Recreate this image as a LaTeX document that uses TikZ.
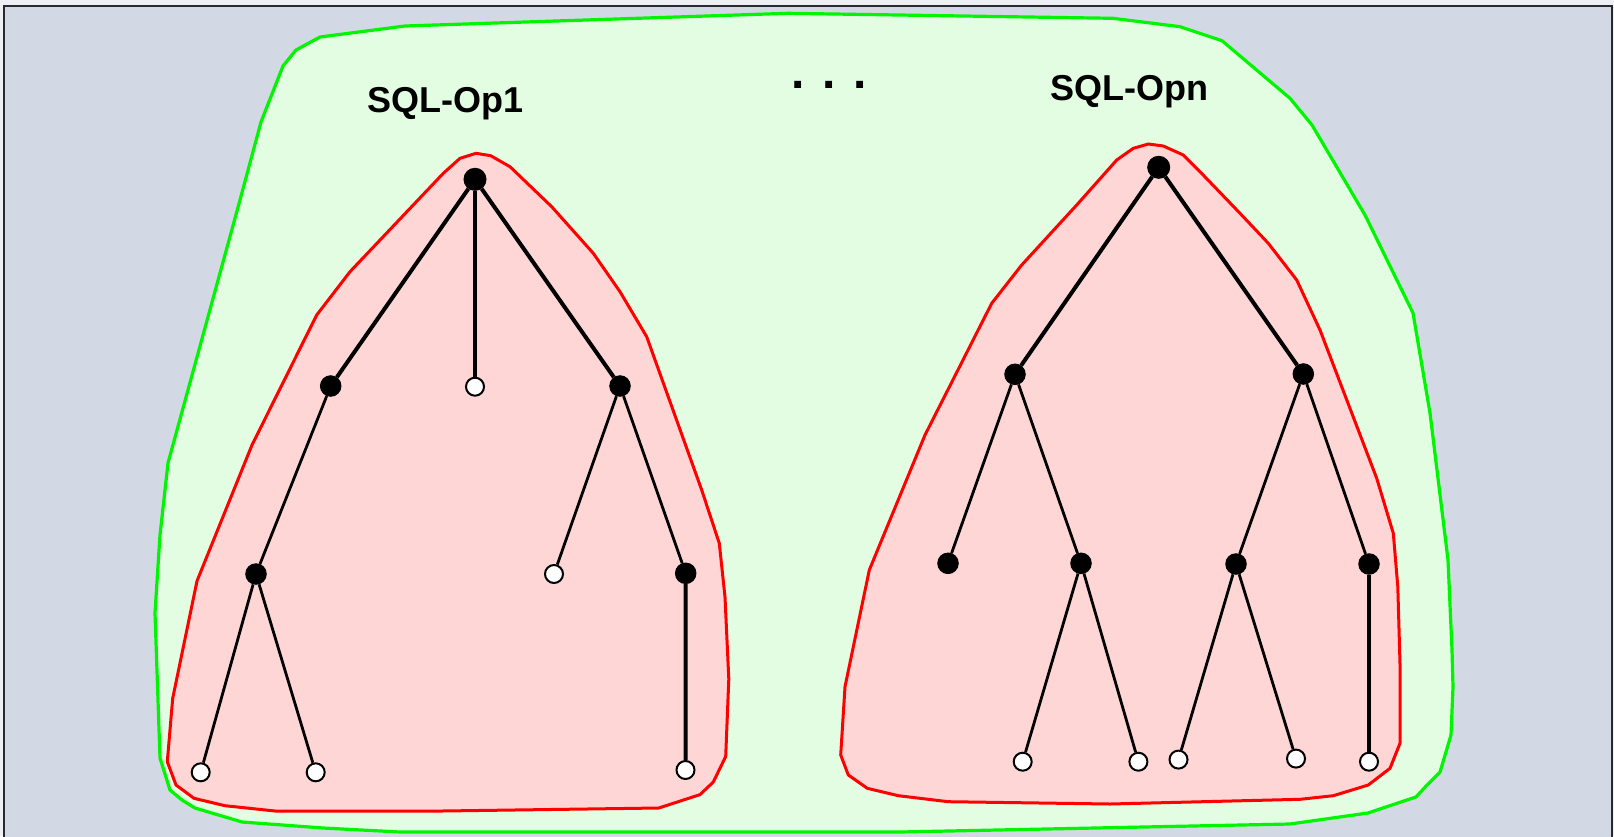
\documentclass[tikz,border=0pt]{standalone}
\usepackage{fontspec}
\setmainfont{Liberation Sans}
\definecolor{outerbg}{RGB}{237,239,244}
\definecolor{innerbg}{RGB}{211,217,228}
\definecolor{framec}{RGB}{40,40,45}
\definecolor{grline}{RGB}{0,245,0}
\definecolor{grfill}{RGB}{226,253,226}
\definecolor{rdline}{RGB}{255,0,0}
\definecolor{rdfill}{RGB}{255,214,214}
\tikzset{
  blk/.style={circle,fill=black,draw=black,line width=1pt,inner sep=0pt,minimum size=20.5pt},
  blkroot/.style={blk,minimum size=22pt},
  wht/.style={circle,fill=white,draw=black,line width=2pt,inner sep=0pt,minimum size=18pt},
  thickedge/.style={line width=4pt,black},
  thinedge/.style={line width=2.8pt,black},
  greenhull/.style={draw=grline,fill=grfill,line width=3.2pt,line join=round},
  redhull/.style={draw=rdline,fill=rdfill,line width=3pt,line join=round},
  lbl/.style={font=\fontsize{36}{40}\selectfont\bfseries,anchor=base,inner sep=0pt},
  dotslbl/.style={font=\fontsize{48}{52}\selectfont\bfseries,anchor=base,inner sep=0pt}
}
\begin{document}
\begin{tikzpicture}[x=1pt,y=-1pt]
\useasboundingbox (0,0) rectangle (1614,836);
\fill[outerbg] (0,0) rectangle (1614,836);
\filldraw[fill=innerbg,draw=framec,line width=2.4pt] (4,6) rectangle (1612,840);
% green hull
\path[greenhull] (320,37) -- (405,26) -- (788,13.3) -- (1113,18.3) -- (1180,26.7) -- (1222,40.7)
  -- (1290,98.3) -- (1312,125) -- (1365,215) -- (1413,313) -- (1430,413) -- (1448,560)
  -- (1452,650) -- (1453,687) -- (1451,735) -- (1440,772) -- (1428,784) -- (1416,797)
  -- (1368,813) -- (1290,824) -- (900,832) -- (400,832) -- (323,828) -- (242,822)
  -- (195,808) -- (182,800) -- (170,790) -- (160,758) -- (155,613) -- (160,535)
  -- (168,463) -- (240,200) -- (261,122) -- (283,66) -- (296,50) -- cycle;
% red hull tree 1
\path[redhull] (476,153.3) -- (490.7,155.7) -- (510,166.7) -- (551.7,206.7) -- (593.3,253.3)
  -- (620,291.7) -- (646.7,336.7) -- (701.7,490) -- (719.3,543.3) -- (725,597) -- (728.8,679)
  -- (725.7,756.5) -- (713.3,782) -- (700,794.6) -- (658.8,808) -- (442,811) -- (275,811)
  -- (225,805.7) -- (194,798.3) -- (176,785) -- (167.3,761.7) -- (172.7,698.3) -- (197,581)
  -- (252,445) -- (316.7,315) -- (350,271.7) -- (443.3,173.3) -- (460,158.3) -- cycle;
% red hull tree 2
\path[redhull] (1148.3,144) -- (1163.3,146) -- (1183.3,155) -- (1200,171.7) -- (1240,213.3)
  -- (1268.3,243.3) -- (1296.7,280) -- (1320,330) -- (1376.7,478.3) -- (1393.3,533.3)
  -- (1397.8,586.7) -- (1400,664) -- (1400,743.3) -- (1390,768.3) -- (1368.3,785)
  -- (1333.3,795.7) -- (1300,799.3) -- (1110,804) -- (948.3,801.7) -- (898.3,795.7)
  -- (867.3,788.3) -- (848.3,775) -- (840.7,755) -- (845,686.7) -- (869.3,570) -- (925,435)
  -- (991.7,303.3) -- (1021.7,265) -- (1076.7,205) -- (1116.7,160) -- (1133.3,148.3) -- cycle;
% tree 1 nodes
\node[blkroot] (a0) at (475,179.3) {};
\node[blk] (a1) at (330.7,386) {};
\node[wht] (a2) at (475,386.7) {};
\node[blk] (a3) at (620,386) {};
\node[blk] (a4) at (256,574) {};
\node[wht] (a5) at (554,574) {};
\node[blk] (a6) at (685.7,573.3) {};
\node[wht] (a7) at (200.7,772.3) {};
\node[wht] (a8) at (315.7,772.3) {};
\node[wht] (a9) at (685.5,770) {};
% tree 2 nodes
\node[blkroot] (b0) at (1158.7,167.3) {};
\node[blk] (b1) at (1015,374.3) {};
\node[blk] (b2) at (1303.3,374) {};
\node[blk] (b3) at (948,563.3) {};
\node[blk] (b4) at (1081,563.3) {};
\node[blk] (b5) at (1236,564) {};
\node[blk] (b6) at (1369,564) {};
\node[wht] (b7) at (1022.7,761.7) {};
\node[wht] (b8) at (1138.4,761.7) {};
\node[wht] (b9) at (1178.5,759.6) {};
\node[wht] (b10) at (1296,758.6) {};
\node[wht] (b11) at (1369,761.7) {};
% edges tree 1
\draw[thickedge] (a0) -- (a1);
\draw[thickedge] (a0) -- (a2);
\draw[thickedge] (a0) -- (a3);
\draw[thinedge] (a1) -- (a4);
\draw[thinedge] (a4) -- (a7);
\draw[thinedge] (a4) -- (a8);
\draw[thinedge] (a3) -- (a5);
\draw[thinedge] (a3) -- (a6);
\draw[thickedge] (a6) -- (a9);
% edges tree 2
\draw[thickedge] (b0) -- (b1);
\draw[thickedge] (b0) -- (b2);
\draw[thinedge] (b1) -- (b3);
\draw[thinedge] (b1) -- (b4);
\draw[thinedge] (b4) -- (b7);
\draw[thinedge] (b4) -- (b8);
\draw[thinedge] (b2) -- (b5);
\draw[thinedge] (b2) -- (b6);
\draw[thinedge] (b5) -- (b9);
\draw[thinedge] (b5) -- (b10);
\draw[thickedge] (b6) -- (b11);
% labels
\node[lbl] (l1) at (445,112.7) {SQL-Op1};
\node[lbl] (l2) at (1129,100) {SQL-Opn};
\node[dotslbl] (l3) at (829,88) {. . .};
\end{tikzpicture}
\end{document}
